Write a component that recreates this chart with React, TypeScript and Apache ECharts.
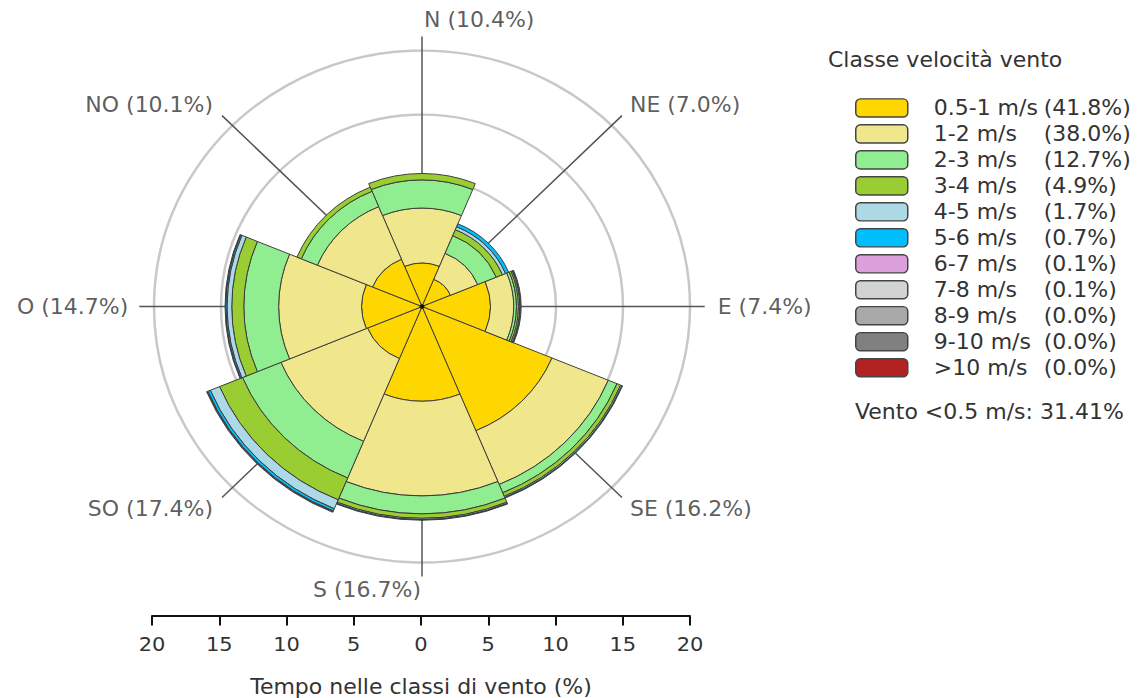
import React, { useEffect, useRef } from "react";
import * as echarts from "echarts";

// ---------- data ----------
const DIRECTIONS = ["N", "NE", "E", "SE", "S", "SO", "O", "NO"];
const DIRECTION_TOTALS = [10.4, 7.0, 7.4, 16.2, 16.7, 17.4, 14.7, 10.1];

const CLASS_LABELS = [
  "0.5-1 m/s",
  "1-2 m/s",
  "2-3 m/s",
  "3-4 m/s",
  "4-5 m/s",
  "5-6 m/s",
  "6-7 m/s",
  "7-8 m/s",
  "8-9 m/s",
  "9-10 m/s",
  ">10 m/s",
];
const CLASS_TOTALS = [41.8, 38.0, 12.7, 4.9, 1.7, 0.7, 0.1, 0.1, 0.0, 0.0, 0.0];
const CALM_PERCENT = 31.41;

// per speed class, per direction (N, NE, E, SE, S, SO, O, NO) in %
const V_05_1 = [3.4, 2.3, 5.1, 10.5, 7.4, 4.4, 4.5, 4.0];
const V_1_2 = [4.3, 2.2, 1.75, 4.55, 7.4, 7.0, 6.2, 4.45];
const V_2_3 = [2.2, 1.5, 0.2, 0.7, 1.4, 3.1, 2.6, 1.3];
const V_3_4 = [0.5, 0.5, 0.15, 0.3, 0.35, 1.85, 0.9, 0.35];
const V_4_5 = [0, 0.25, 0.1, 0.1, 0.1, 0.75, 0.35, 0];
const V_5_6 = [0, 0.25, 0.05, 0.05, 0.05, 0.2, 0.1, 0];
const V_6_7 = [0, 0, 0, 0, 0, 0.05, 0.05, 0];
const V_7_8 = [0, 0, 0.05, 0, 0, 0.05, 0, 0];
const V_8_9 = [0, 0, 0, 0, 0, 0, 0, 0];
const V_9_10 = [0, 0, 0, 0, 0, 0, 0, 0];
const V_GT_10 = [0, 0, 0, 0, 0, 0, 0, 0];

const CLASS_VALUES = [V_05_1, V_1_2, V_2_3, V_3_4, V_4_5, V_5_6, V_6_7, V_7_8, V_8_9, V_9_10, V_GT_10];

const RADIUS_TICKS = [0, 5, 10, 15, 20];
const BOTTOM_TICKS_MAX = 20;
const LINE_EXTENT = 21.1; // radial extent of direction lines (%)

// ---------- styles ----------
const CLASS_COLORS = [
  "#FFD700",
  "#F0E68C",
  "#90EE90",
  "#9ACD32",
  "#ADD8E6",
  "#00BFFF",
  "#DDA0DD",
  "#D3D3D3",
  "#A9A9A9",
  "#808080",
  "#B22222",
];
const FONT = '"DejaVu Sans", Verdana, sans-serif';
const TEXT_COLOR = "#333";
const SQUASH = 0.955;
const W = 1147;
const H = Math.round(698 / SQUASH);
const CENTER = [422, 321];
const LABEL_PLACEMENT = [
  { align: "left", offset: [2, -18] },
  { align: "left", offset: [8, -11] },
  { align: "left", offset: [13, 0] },
  { align: "left", offset: [8, 12] },
  { align: "right", offset: [-1, 14] },
  { align: "right", offset: [-9, 12] },
  { align: "right", offset: [-11, 0] },
  { align: "right", offset: [-9, -11] },
];

function buildOption() {
  const barSeries = CLASS_LABELS.map((name, ci) => ({
    name,
    type: "bar",
    coordinateSystem: "polar",
    polarIndex: 0,
    stack: "rose",
    barCategoryGap: "0%",
    itemStyle: { color: CLASS_COLORS[ci], borderColor: "#3a3a3a", borderWidth: 1 },
    emphasis: { disabled: true },
    data: CLASS_VALUES[ci].map((v) => (v > 0 ? v : "-")),
  }));

  const labelSeries = {
    type: "scatter",
    coordinateSystem: "polar",
    polarIndex: 1,
    symbolSize: 0.1,
    itemStyle: { color: "rgba(0,0,0,0)" },
    silent: true,
    z: 5,
    data: DIRECTIONS.map((d, i) => ({
      value: [LINE_EXTENT, (i * 360) / DIRECTIONS.length],
      label: {
        show: true,
        position: "inside",
        align: LABEL_PLACEMENT[i].align,
        verticalAlign: "middle",
        offset: LABEL_PLACEMENT[i].offset,
        formatter: `${d} (${DIRECTION_TOTALS[i].toFixed(1)}%)`,
        fontFamily: FONT,
        fontSize: 22,
        color: TEXT_COLOR,
      },
    })),
  };

  const centerDot = {
    type: "scatter",
    coordinateSystem: "polar",
    polarIndex: 1,
    symbolSize: 5,
    itemStyle: { color: "#000" },
    silent: true,
    z: 6,
    data: [[0, 0]],
  };

  return {
    animation: false,
    backgroundColor: "#fff",
    textStyle: { fontFamily: FONT },
    polar: [
      { center: CENTER, radius: 268 },
      { center: CENTER, radius: 268 * (LINE_EXTENT / RADIUS_TICKS[RADIUS_TICKS.length - 1]) },
    ],
    angleAxis: [
      {
        polarIndex: 0,
        type: "category",
        data: DIRECTIONS,
        startAngle: 90 + 180 / DIRECTIONS.length,
        clockwise: true,
        axisLine: { show: false },
        axisTick: { show: false },
        axisLabel: { show: false },
        splitLine: { show: false },
      },
      {
        polarIndex: 1,
        type: "value",
        min: 0,
        max: 360,
        interval: 45,
        startAngle: 90,
        clockwise: true,
        z: 1,
        axisLine: { show: false },
        axisTick: { show: false },
        axisLabel: { show: false },
        splitLine: { show: true, lineStyle: { color: "#555", width: 1.5 } },
      },
    ],
    radiusAxis: [
      {
        polarIndex: 0,
        type: "value",
        min: RADIUS_TICKS[0],
        max: RADIUS_TICKS[RADIUS_TICKS.length - 1],
        interval: RADIUS_TICKS[1] - RADIUS_TICKS[0],
        axisLine: { show: false },
        axisTick: { show: false },
        axisLabel: { show: false },
        splitLine: { show: true, lineStyle: { color: "#c8c8c8", width: 2.5 } },
      },
      { polarIndex: 1, type: "value", min: 0, max: LINE_EXTENT, show: false },
    ],
    grid: { left: 152, width: 538, top: 644, height: 1 },
    xAxis: {
      type: "value",
      min: -BOTTOM_TICKS_MAX,
      max: BOTTOM_TICKS_MAX,
      interval: 5,
      position: "bottom",
      axisLine: { lineStyle: { color: "#111", width: 2 } },
      axisTick: { length: 10, lineStyle: { color: "#111", width: 2 } },
      splitLine: { show: false },
      axisLabel: {
        formatter: (v: number) => String(Math.abs(v)),
        fontSize: 21,
        color: TEXT_COLOR,
        margin: 19,
        fontFamily: FONT,
      },
      name: "Tempo nelle classi di vento (%)",
      nameLocation: "middle",
      nameGap: 63,
      nameTextStyle: { fontSize: 22, color: TEXT_COLOR, fontFamily: FONT },
    },
    yAxis: { type: "value", show: false, min: 0, max: 1 },
    legend: {
      orient: "vertical",
      left: 855,
      top: 102,
      padding: 0,
      itemWidth: 52,
      itemHeight: 19,
      itemGap: 5.2,
      icon: "roundRect",
      selectedMode: false,
      data: CLASS_LABELS,
      itemStyle: { borderColor: "#444", borderWidth: 1.5 },
      formatter: (name: string) => {
        const i = CLASS_LABELS.indexOf(name);
        return `{a|${name}}{b|(${CLASS_TOTALS[i].toFixed(1)}%)}`;
      },
      textStyle: {
        fontFamily: FONT,
        fontSize: 22,
        color: TEXT_COLOR,
        lineHeight: 22,
        rich: {
          a: { width: 110, padding: [0, 0, 0, 21], fontSize: 22, fontFamily: FONT, color: TEXT_COLOR, lineHeight: 22 },
          b: { fontSize: 22, fontFamily: FONT, color: TEXT_COLOR, lineHeight: 22 },
        },
      },
    },
    graphic: [
      {
        type: "text",
        left: 828,
        top: 51,
        style: { text: "Classe velocità vento", fontSize: 22, fontFamily: FONT, fill: TEXT_COLOR },
      },
      {
        type: "text",
        left: 855,
        top: 420,
        style: {
          text: `Vento <0.5 m/s: ${CALM_PERCENT.toFixed(2)}%`,
          fontSize: 22,
          fontFamily: FONT,
          fill: TEXT_COLOR,
        },
      },
    ],
    series: [...barSeries, labelSeries, centerDot],
  };
}

export default function App() {
  const ref = useRef<HTMLDivElement>(null);
  useEffect(() => {
    if (!ref.current) return;
    const chart = echarts.init(ref.current, null, { renderer: "svg", width: W, height: H });
    chart.setOption(buildOption() as any);
    return () => chart.dispose();
  }, []);
  return (
    <div
      ref={ref}
      style={{
        position: "absolute",
        left: 0,
        top: 0,
        width: W,
        height: H,
        transform: `scaleY(${SQUASH})`,
        transformOrigin: "0 0",
        background: "#fff",
      }}
    />
  );
}
